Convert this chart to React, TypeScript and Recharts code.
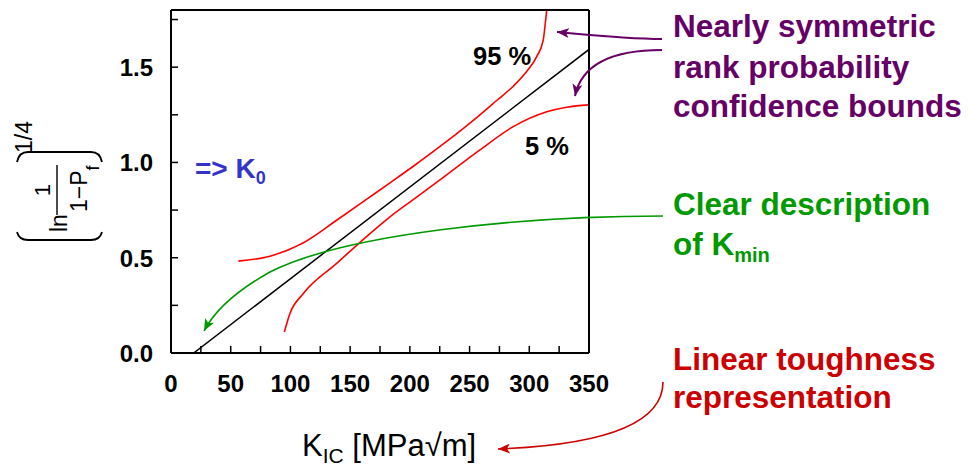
import { Line, LineChart, XAxis, YAxis } from "recharts";

const FONT = "'Liberation Sans', Arial, sans-serif";

// axis ticks: every 25 MPa√m and every 0.25 on the probability scale
const kTicks = [0, 25, 50, 75, 100, 125, 150, 175, 200, 225, 250, 275, 300, 325, 350];
const pTicks = [0, 0.25, 0.5, 0.75, 1, 1.25, 1.5, 1.75];

// fitted master line
const medianK = [19, 350];
const medianP = [0, 1.593];

// 95 % rank probability bound
const upperK = [56.4, 82.9, 110.5, 139.0, 166.6, 183.4, 202.9, 230.8, 258.7, 272.7, 286.6, 297.8, 306.2, 311.7, 313.7, 314.6];
const upperP = [0.482, 0.508, 0.577, 0.698, 0.819, 0.893, 0.98, 1.11, 1.25, 1.325, 1.4, 1.477, 1.555, 1.643, 1.748, 1.8];

// 5 % rank probability bound
const lowerK = [94.9, 99.6, 110.8, 138.7, 166.6, 183.4, 205.7, 230.8, 258.7, 286.6, 314.6, 331.3, 350];
const lowerP = [0.11, 0.207, 0.312, 0.47, 0.627, 0.715, 0.818, 0.935, 1.066, 1.188, 1.266, 1.29, 1.302];

const toRows = (ks: number[], ps: number[]) => ks.map((k, i) => ({ k, p: ps[i] }));

const median = toRows(medianK, medianP);
const upper = toRows(upperK, upperP);
const lower = toRows(lowerK, lowerP);

// tick marks point into the plot, so label positions get the tick length added back
const TICK_LEN = 7;

const isMajorK = (v: number) => v % 50 === 0;
const isMajorP = (v: number) => Math.abs(v * 2 - Math.round(v * 2)) < 1e-6;

const BottomLabel = ({ x, y, payload }: any) => {
  const v = payload.value as number;
  if (!isMajorK(v)) return <g />;
  return (
    <text x={x} y={y + TICK_LEN + 39} textAnchor="middle" fontSize={24} fontWeight="bold" fontFamily={FONT} fill="#000">
      {v}
    </text>
  );
};

const LeftLabel = ({ x, y, payload }: any) => {
  const v = payload.value as number;
  if (!isMajorP(v)) return <g />;
  return (
    <text x={x - TICK_LEN - 18} y={y + 9} textAnchor="end" fontSize={24} fontWeight="bold" fontFamily={FONT} fill="#000">
      {v.toFixed(1)}
    </text>
  );
};

const Arrowhead = ({ id, color }: { id: string; color: string }) => (
  <marker
    id={id}
    viewBox="0 0 12 10"
    refX={12}
    refY={5}
    markerWidth={12}
    markerHeight={10}
    markerUnits="userSpaceOnUse"
    orient="auto"
  >
    <path d="M0,0 L12,5 L0,10 L3,5 z" fill={color} />
  </marker>
);

const PURPLE = "#660066";
const GREEN = "#009900";
const RED = "#cc0000";
const BLUE = "#3434c8";

const axisStroke = { stroke: "#000", strokeWidth: 2 };
const tickStroke = { stroke: "#000", strokeWidth: 1.5 };

const App = () => (
  <div style={{ position: "absolute", left: 0, top: 0, width: 979, height: 467, background: "#fff" }}>
    <LineChart width={979} height={467} margin={{ top: 0, right: 380, bottom: 64, left: 111 }}>
      <XAxis
        xAxisId="k"
        dataKey="k"
        type="number"
        domain={[0, 350]}
        ticks={kTicks}
        interval={0}
        height={50}
        tickSize={-TICK_LEN}
        tickMargin={0}
        tickLine={tickStroke}
        tick={<BottomLabel />}
        axisLine={axisStroke}
        allowDataOverflow
      />
      <XAxis
        xAxisId="top"
        orientation="top"
        type="number"
        domain={[0, 350]}
        ticks={kTicks}
        interval={0}
        height={10}
        tickSize={-TICK_LEN}
        tickMargin={0}
        tickLine={tickStroke}
        tick={false}
        axisLine={axisStroke}
      />
      <YAxis
        yAxisId="p"
        dataKey="p"
        type="number"
        domain={[0, 1.8]}
        ticks={pTicks}
        interval={0}
        width={60}
        tickSize={-TICK_LEN}
        tickMargin={0}
        tickLine={tickStroke}
        tick={<LeftLabel />}
        axisLine={axisStroke}
        allowDataOverflow
      />
      <YAxis
        yAxisId="right"
        orientation="right"
        type="number"
        domain={[0, 1.8]}
        ticks={pTicks}
        interval={0}
        width={10}
        tickSize={-TICK_LEN}
        tickMargin={0}
        tickLine={tickStroke}
        tick={false}
        axisLine={axisStroke}
      />
      <Line xAxisId="k" yAxisId="p" data={median} dataKey="p" type="linear" stroke="#000" strokeWidth={1.5} dot={false} isAnimationActive={false} />
      <Line xAxisId="k" yAxisId="p" data={upper} dataKey="p" type="monotone" stroke="#ff0000" strokeWidth={1.6} dot={false} isAnimationActive={false} />
      <Line xAxisId="k" yAxisId="p" data={lower} dataKey="p" type="monotone" stroke="#ff0000" strokeWidth={1.6} dot={false} isAnimationActive={false} />
    </LineChart>

    {/* labels and call-outs */}
    <svg width={979} height={467} style={{ position: "absolute", left: 0, top: 0, pointerEvents: "none" }} fontFamily={FONT}>
      <defs>
        <Arrowhead id="ah-purple" color={PURPLE} />
        <Arrowhead id="ah-green" color={GREEN} />
        <Arrowhead id="ah-red" color={RED} />
      </defs>

      {/* y-axis title, written sideways */}
      <g transform="rotate(-90)" fill="#000">
        <path d="M -232 17 Q -240 19 -240 28 L -240 91 Q -240 100 -232 102" fill="none" stroke="#000" strokeWidth={1.8} />
        <path d="M -162 17 Q -152 19 -152 28 L -152 91 Q -152 100 -162 102" fill="none" stroke="#000" strokeWidth={1.8} />
        <text x={-232} y={67} fontSize={23}>ln</text>
        <text x={-190} y={50} fontSize={22} textAnchor="middle">1</text>
        <line x1={-215} y1={57} x2={-165} y2={57} stroke="#000" strokeWidth={1.4} />
        <text x={-212} y={87} fontSize={23}>
          1−P
          <tspan fontSize={18} dy={12}>f</tspan>
        </text>
        <text x={-153} y={32} fontSize={23}>1/4</text>
      </g>

      {/* x-axis title */}
      <text x={302} y={456} fontSize={31} fill="#000">
        K<tspan fontSize={21} dy={7}>IC</tspan>
        <tspan dy={-7}> [MPa√m]</tspan>
      </text>

      <text x={473} y={65} fontSize={25.5} fontWeight="bold" fill="#000">95 %</text>
      <text x={525} y={155} fontSize={25.5} fontWeight="bold" fill="#000">5 %</text>
      <text x={195} y={178} fontSize={28} fontWeight="bold" fill={BLUE}>
        =&gt; K<tspan fontSize={18} dy={6}>0</tspan>
      </text>

      <g fontSize={31.5} fontWeight="bold" fill={PURPLE}>
        <text x={673} y={37}>Nearly symmetric</text>
        <text x={673} y={78}>rank probability</text>
        <text x={673} y={117}>confidence bounds</text>
      </g>
      <g fontSize={31.5} fontWeight="bold" fill={GREEN}>
        <text x={673} y={215}>Clear description</text>
        <text x={673} y={255}>
          of K<tspan fontSize={20} dy={7}>min</tspan>
        </text>
      </g>
      <g fontSize={31.5} fontWeight="bold" fill={RED}>
        <text x={673} y={370}>Linear toughness</text>
        <text x={673} y={408}>representation</text>
      </g>

      <path d="M 662 39 C 630 39, 600 36, 557 32" fill="none" stroke={PURPLE} strokeWidth={2} markerEnd="url(#ah-purple)" />
      <path d="M 662 50 C 615 50, 582 62, 575 96" fill="none" stroke={PURPLE} strokeWidth={2} markerEnd="url(#ah-purple)" />
      <path d="M 663 216 C 520 216, 345 234, 270 272 C 236 291, 214 312, 204 331" fill="none" stroke={GREEN} strokeWidth={1.6} markerEnd="url(#ah-green)" />
      <path d="M 663 382 C 663 425, 600 445, 498 449" fill="none" stroke={RED} strokeWidth={1.6} markerEnd="url(#ah-red)" />
    </svg>
  </div>
);

export default App;
